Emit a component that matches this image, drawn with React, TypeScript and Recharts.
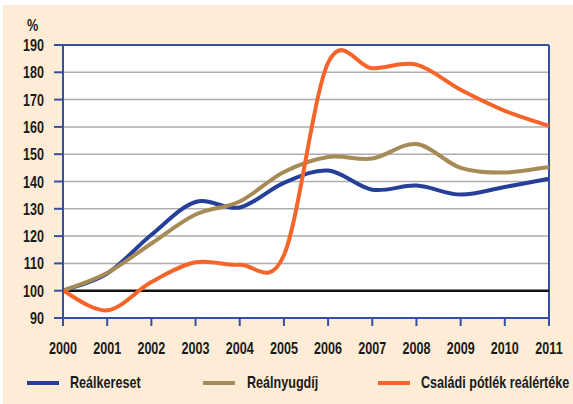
import { LineChart, Line, XAxis, YAxis, CartesianGrid, ReferenceLine, Legend } from "recharts";

document.body.style.margin = "0";

const years = [2000, 2001, 2002, 2003, 2004, 2005, 2006, 2007, 2008, 2009, 2010, 2011];
const realkereset = [100, 106.3, 120.5, 132.5, 130.5, 139.5, 144, 137, 138.5, 135.2, 138, 141];
const realnyugdij = [100, 106.5, 117.3, 127.9, 132.7, 143.5, 149, 148.4, 153.7, 145, 143.3, 145.3];
const csaladiPotlek = [100, 92.8, 103.2, 110.4, 109.5, 113, 183.5, 181.5, 182.8, 173.6, 165.9, 160.4];
const yTicks = [90, 100, 110, 120, 130, 140, 150, 160, 170, 180, 190];

const data = years.map((year, i) => ({
  year,
  realkereset: realkereset[i],
  realnyugdij: realnyugdij[i],
  csaladi: csaladiPotlek[i],
}));

// no condensed font installed, so squeeze Liberation Sans horizontally
const FONT = '"Liberation Sans", Arial, sans-serif';
const FONT_SIZE = 17;
const SQUEEZE = 0.74;
const TEXT_COLOR = "#1a1a1a";
const AXIS_BLUE = "#3450a3";

const series = [
  { key: "realkereset", name: "Reálkereset", color: "#26409a", line: 24, text: 67 },
  { key: "realnyugdij", name: "Reálnyugdíj", color: "#a68b56", line: 200, text: 244 },
  { key: "csaladi", name: "Családi pótlék reálértéke", color: "#f5652a", line: 375, text: 418 },
];

// Excel-style smoothed line (uniform Catmull-Rom as cubic Beziers)
function smoothCurve(context: any) {
  let pts: number[][] = [];
  return {
    areaStart() {},
    areaEnd() {},
    lineStart() {
      pts = [];
    },
    point(x: number, y: number) {
      pts.push([+x, +y]);
    },
    lineEnd() {
      if (!pts.length) return;
      context.moveTo(pts[0][0], pts[0][1]);
      for (let i = 0; i < pts.length - 1; i++) {
        const p0 = pts[i - 1] || pts[i];
        const p1 = pts[i];
        const p2 = pts[i + 1];
        const p3 = pts[i + 2] || p2;
        context.bezierCurveTo(
          p1[0] + (p2[0] - p0[0]) / 6,
          p1[1] + (p2[1] - p0[1]) / 6,
          p2[0] - (p3[0] - p1[0]) / 6,
          p2[1] - (p3[1] - p1[1]) / 6,
          p2[0],
          p2[1]
        );
      }
    },
  };
}

function NarrowTick(props: any) {
  const { x, y, payload, textAnchor, dy } = props;
  return (
    <text
      transform={`translate(${x},${y}) scale(${SQUEEZE},1)`}
      textAnchor={textAnchor}
      dy={dy}
      fontFamily={FONT}
      fontSize={FONT_SIZE}
      fontWeight="bold"
      fill={TEXT_COLOR}
    >
      {payload.value}
    </text>
  );
}

const narrowText = {
  display: "inline-block",
  transform: `scaleX(${SQUEEZE})`,
  transformOrigin: "left center",
  fontFamily: FONT,
  fontWeight: "bold" as const,
  fontSize: FONT_SIZE,
  color: TEXT_COLOR,
  whiteSpace: "nowrap" as const,
};

function LegendContent() {
  return (
    <div style={{ position: "relative", height: 20 }}>
      {series.map((s) => (
        <div key={s.key}>
          <div
            style={{ position: "absolute", left: s.line, top: 8, width: 32, height: 4, background: s.color }}
          />
          <div style={{ position: "absolute", left: s.text, top: 0, lineHeight: "20px" }}>
            <span style={narrowText}>{s.name}</span>
          </div>
        </div>
      ))}
    </div>
  );
}

export default function App() {
  return (
    <div style={{ position: "relative", width: 573, height: 404, background: "#ffffff" }}>
      <div style={{ position: "absolute", left: 3, top: 5, width: 570, height: 399, background: "#feecd6" }}>
        <div style={{ position: "absolute", left: 24, top: 12, lineHeight: "18px" }}>
          <span style={narrowText}>%</span>
        </div>
        <LineChart
          width={570}
          height={399}
          data={data}
          margin={{ top: 40, right: 24, left: 0, bottom: 36 }}
        >
          <CartesianGrid
            horizontal
            vertical={false}
            stroke="#adadad"
            strokeWidth={1.5}
            fill="#ffffff"
            fillOpacity={1}
          />
          <XAxis
            dataKey="year"
            type="number"
            domain={[2000, 2011]}
            ticks={years}
            allowDecimals={false}
            height={30}
            tick={<NarrowTick dy="0.71em" />}
            tickSize={8}
            tickMargin={16}
            tickLine={{ stroke: AXIS_BLUE, strokeWidth: 2 }}
            axisLine={{ stroke: AXIS_BLUE, strokeWidth: 2 }}
          />
          <YAxis
            type="number"
            domain={[90, 190]}
            ticks={yTicks}
            width={60}
            tick={<NarrowTick dy="0.355em" />}
            tickSize={9}
            tickMargin={10}
            tickLine={{ stroke: AXIS_BLUE, strokeWidth: 2 }}
            axisLine={{ stroke: AXIS_BLUE, strokeWidth: 2 }}
          />
          <ReferenceLine y={190} stroke={AXIS_BLUE} strokeWidth={2} />
          <ReferenceLine x={2011} stroke={AXIS_BLUE} strokeWidth={2} />
          <ReferenceLine y={100} stroke="#111111" strokeWidth={2.6} />
          {series.map((s) => (
            <Line
              key={s.key}
              dataKey={s.key}
              name={s.name}
              type={smoothCurve as any}
              stroke={s.color}
              strokeWidth={4}
              dot={false}
              activeDot={false}
              isAnimationActive={false}
            />
          ))}
          <Legend
            content={<LegendContent />}
            wrapperStyle={{ position: "absolute", left: 0, top: 368, width: 570, height: 20 }}
          />
        </LineChart>
      </div>
    </div>
  );
}
